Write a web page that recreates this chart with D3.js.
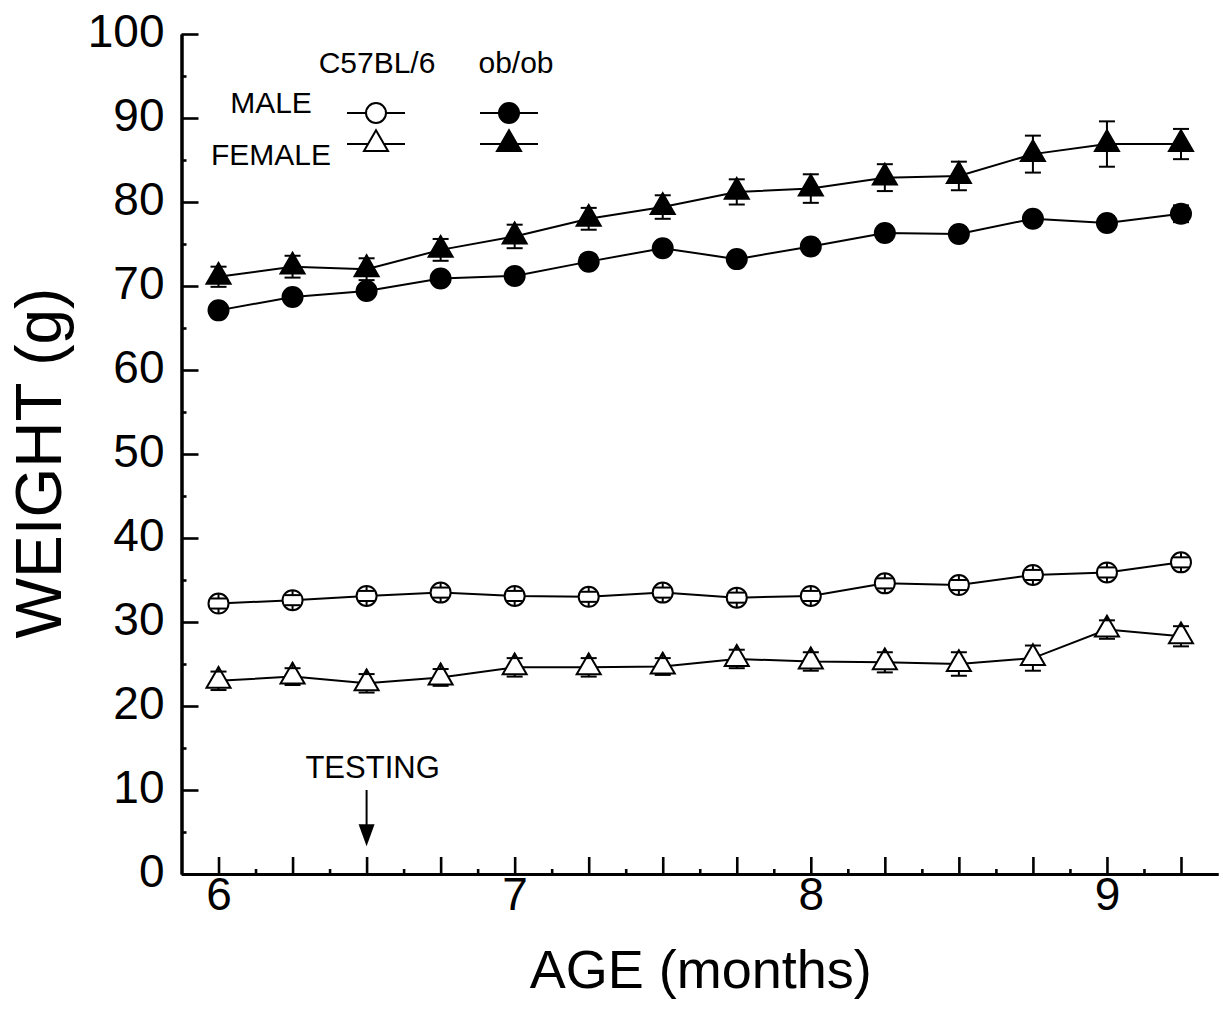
<!DOCTYPE html>
<html>
<head>
<meta charset="utf-8">
<script src="https://cdn.jsdelivr.net/npm/d3@7"></script>
<style>
  html, body { margin: 0; padding: 0; background: #fff; }
  svg { display: block; font-family: Arial, "Liberation Sans", sans-serif; }
</style>
</head>
<body>
<svg id="chart" width="1223" height="1011"></svg>
<script>
// Body weight by age, mean ± SE
const ages = [6, 6.25, 6.5, 6.75, 7, 7.25, 7.5, 7.75, 8, 8.25, 8.5, 8.75, 9, 9.25];

const obMale      = [67.1, 68.7, 69.4, 70.9, 71.2, 72.9, 74.5, 73.2, 74.7, 76.3, 76.2, 78.0, 77.5, 78.6];
const obMaleSE    = [0.7, 0.7, 0.7, 0.7, 0.7, 0.7, 0.7, 0.7, 0.8, 0.8, 0.8, 0.8, 0.8, 1.0];
const obFemale    = [71.1, 72.3, 72.0, 74.3, 75.9, 78.0, 79.4, 81.2, 81.6, 82.9, 83.1, 85.7, 86.9, 86.9];
const obFemaleSE  = [1.2, 1.3, 1.3, 1.3, 1.4, 1.3, 1.4, 1.5, 1.7, 1.6, 1.7, 2.2, 2.7, 1.8];
const c57Male     = [32.2, 32.6, 33.1, 33.5, 33.1, 33.0, 33.5, 32.9, 33.1, 34.6, 34.4, 35.6, 35.9, 37.1];
const c57MaleSE   = [0.6, 0.6, 0.6, 0.6, 0.6, 0.6, 0.6, 0.6, 0.6, 0.6, 0.6, 0.6, 0.6, 0.6];
const c57Female   = [23.0, 23.5, 22.7, 23.4, 24.6, 24.6, 24.7, 25.6, 25.3, 25.2, 25.0, 25.7, 29.1, 28.3];
const c57FemaleSE = [1.1, 1.0, 1.1, 1.0, 1.1, 1.1, 1.0, 1.1, 1.1, 1.2, 1.4, 1.5, 1.1, 1.2];

const yTicks = [0, 10, 20, 30, 40, 50, 60, 70, 80, 90, 100];
const yMinorTicks = [5, 15, 25, 35, 45, 55, 65, 75, 85, 95];
const xTicks = [6, 6.25, 6.5, 6.75, 7, 7.25, 7.5, 7.75, 8, 8.25, 8.5, 8.75, 9, 9.25];
const xMinorTicks = [6.125, 6.375, 6.625, 6.875, 7.125, 7.375, 7.625, 7.875, 8.125, 8.375, 8.625, 8.875, 9.125];
const xTickLabels = [6, 7, 8, 9];

const legendStrains = ["C57BL/6", "ob/ob"];
const legendSexes = ["MALE", "FEMALE"];
const annotation = { text: "TESTING", age: 6.5, from: 10, to: 3.3, labelAt: 11.5 };

const svg = d3.select("#chart");

const x = d3.scaleLinear().domain([5.875, 9.375]).range([181.5, 1218]);
const y = d3.scaleLinear().domain([0, 100]).range([874, 34]);

// Marker shapes (triangle is centred on its centroid)
const circleSym = d3.symbol().type(d3.symbolCircle).size(Math.PI * 10 * 10);
const triSym = d3.symbol().type(d3.symbolTriangle).size(250);
const triR = Math.sqrt(250 / (Math.sqrt(3) * 3)); // centroid to base distance

// ---- axes ----
const yAxis = svg.append("g").attr("transform", `translate(${x.range()[0]},0)`)
  .call(d3.axisLeft(y).tickValues(yTicks).tickSize(-17).tickSizeOuter(0).tickPadding(17));
const yMinor = svg.append("g").attr("transform", `translate(${x.range()[0]},0)`)
  .call(d3.axisLeft(y).tickValues(yMinorTicks).tickSize(-5).tickSizeOuter(0).tickFormat(""));
const xAxis = svg.append("g").attr("transform", `translate(0,${y(0)})`)
  .call(d3.axisBottom(x).tickValues(xTicks).tickSize(-17).tickSizeOuter(0).tickPadding(3)
    .tickFormat(d => xTickLabels.includes(d) ? String(d) : ""));
const xMinor = svg.append("g").attr("transform", `translate(0,${y(0)})`)
  .call(d3.axisBottom(x).tickValues(xMinorTicks).tickSize(-5).tickSizeOuter(0).tickFormat(""));

[yAxis, yMinor, xAxis, xMinor].forEach(g => {
  g.select(".domain").attr("stroke", "#000").attr("stroke-width", 3);
  g.selectAll(".tick line").attr("stroke", "#000").attr("stroke-width", 2.6);
  g.selectAll(".tick text").attr("fill", "#000").attr("font-size", 46)
    .attr("font-family", 'Arial, "Liberation Sans", sans-serif');
});
yAxis.selectAll(".tick text").attr("dy", "0.27em");

// axis titles
svg.append("text")
  .attr("x", (x.range()[0] + x.range()[1]) / 2 + 1).attr("y", 988)
  .attr("text-anchor", "middle").attr("font-size", 54).text("AGE (months)");
svg.append("text")
  .attr("transform", `translate(61,${(y(0) + y(100)) / 2 + 9}) rotate(-90)`)
  .attr("text-anchor", "middle").attr("font-size", 64).text("WEIGHT (g)");

// ---- series ----
const series = [
  { values: obMale,    se: obMaleSE,    shape: "circle",   fill: "#000" },
  { values: obFemale,  se: obFemaleSE,  shape: "triangle", fill: "#000" },
  { values: c57Male,   se: c57MaleSE,   shape: "circle",   fill: "#fff" },
  { values: c57Female, se: c57FemaleSE, shape: "triangle", fill: "#fff" }
];

const line = d3.line().x(d => x(d[0])).y(d => y(d[1]));

series.forEach(s => {
  const pts = ages.map((a, i) => [a, s.values[i], s.se[i]]);
  const g = svg.append("g");
  g.append("path").datum(pts).attr("d", line)
    .attr("fill", "none").attr("stroke", "#000").attr("stroke-width", 2);

  g.selectAll("path.mk").data(pts).join("path").attr("class", "mk")
    .attr("d", s.shape === "circle" ? circleSym() : triSym())
    .attr("transform", d => `translate(${x(d[0])},${y(d[1])})`)
    .attr("fill", s.fill).attr("stroke", "#000").attr("stroke-width", 2);

  // error bars: drawn from the marker edge out (or in) to each cap
  const topEdge = s.shape === "circle" ? 10 : 2 * triR;
  const botEdge = s.shape === "circle" ? 10 : triR;
  const eb = g.selectAll("g.eb").data(pts).join("g").attr("class", "eb")
    .attr("stroke", "#000").attr("stroke-width", 2);
  eb.append("line")
    .attr("x1", d => x(d[0])).attr("x2", d => x(d[0]))
    .attr("y1", d => y(d[1]) - topEdge).attr("y2", d => y(d[1] + d[2]));
  eb.append("line")
    .attr("x1", d => x(d[0])).attr("x2", d => x(d[0]))
    .attr("y1", d => y(d[1]) + botEdge).attr("y2", d => y(d[1] - d[2]));
  eb.append("line")
    .attr("x1", d => x(d[0]) - 8).attr("x2", d => x(d[0]) + 8)
    .attr("y1", d => y(d[1] + d[2])).attr("y2", d => y(d[1] + d[2]));
  eb.append("line")
    .attr("x1", d => x(d[0]) - 8).attr("x2", d => x(d[0]) + 8)
    .attr("y1", d => y(d[1] - d[2])).attr("y2", d => y(d[1] - d[2]));
});

// ---- legend ----
const legend = svg.append("g").attr("font-size", 30);
const colX = [376, 509];
const rowY = [113, 144];
legend.selectAll("text.col").data(legendStrains).join("text").attr("class", "col")
  .attr("x", (d, i) => colX[i] + (i === 0 ? 1 : 7)).attr("y", 73)
  .attr("text-anchor", "middle").text(d => d);
legend.selectAll("text.row").data(legendSexes).join("text").attr("class", "row")
  .attr("x", 271).attr("y", (d, i) => i === 0 ? 113 : 165)
  .attr("text-anchor", "middle").text(d => d);
const legendMarks = [
  { col: 0, row: 0, shape: "circle", fill: "#fff" },
  { col: 0, row: 1, shape: "triangle", fill: "#fff" },
  { col: 1, row: 0, shape: "circle", fill: "#000" },
  { col: 1, row: 1, shape: "triangle", fill: "#000" }
];
legendMarks.forEach(m => {
  const cx = colX[m.col], cy = rowY[m.row];
  legend.append("line").attr("x1", cx - 29).attr("x2", cx + 29)
    .attr("y1", cy).attr("y2", cy).attr("stroke", "#000").attr("stroke-width", 2);
  legend.append("path").attr("d", m.shape === "circle" ? circleSym() : triSym())
    .attr("transform", `translate(${cx},${cy})`)
    .attr("fill", m.fill).attr("stroke", "#000").attr("stroke-width", 2);
});

// ---- annotation arrow ----
const ax = x(annotation.age);
svg.append("text").attr("x", ax + 6).attr("y", y(annotation.labelAt) + 1)
  .attr("text-anchor", "middle").attr("font-size", 31).text(annotation.text);
const tipY = y(annotation.to);
svg.append("line").attr("x1", ax).attr("x2", ax)
  .attr("y1", y(annotation.from)).attr("y2", tipY - 18)
  .attr("stroke", "#000").attr("stroke-width", 2);
svg.append("path")
  .attr("d", `M${ax - 8},${tipY - 22} L${ax + 8},${tipY - 22} L${ax},${tipY} Z`)
  .attr("fill", "#000");
</script>
</body>
</html>
